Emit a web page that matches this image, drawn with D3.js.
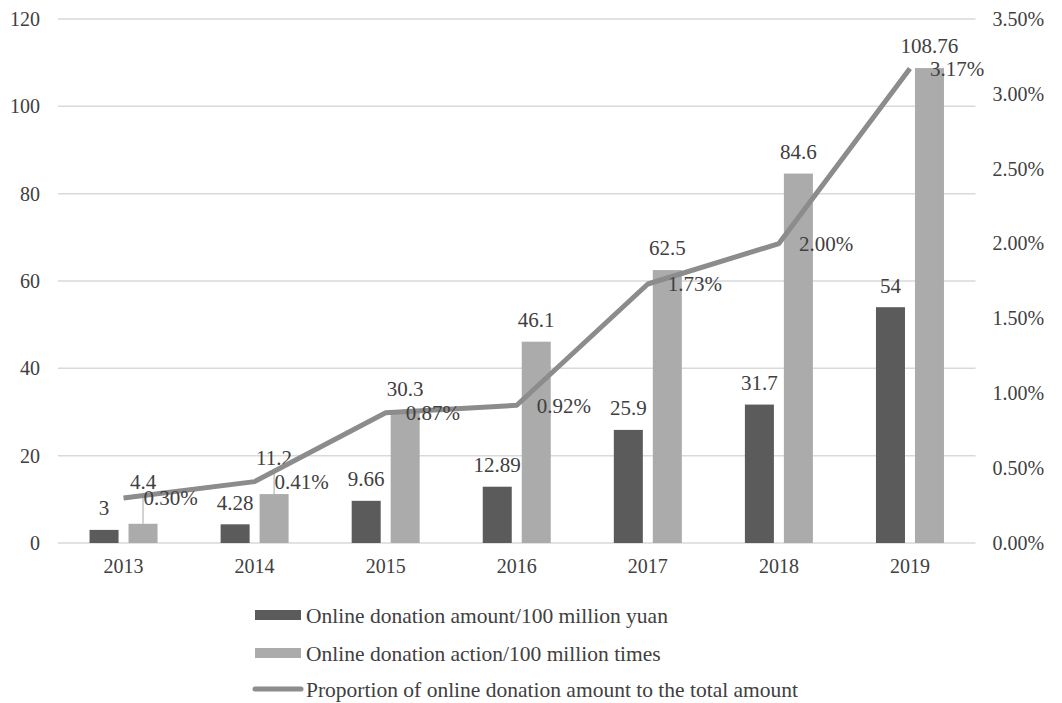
<!DOCTYPE html>
<html>
<head>
<meta charset="utf-8">
<script src="https://cdn.jsdelivr.net/npm/d3@7"></script>
<style>
  html, body { margin: 0; padding: 0; background: #fff; }
  svg, svg text { font-family: "Liberation Serif", "Times New Roman", serif; }
  svg { display: block; }
</style>
</head>
<body>
<svg id="chart" width="1062" height="703"></svg>
<script>
// Online donations in China, 2013–2019
const years = ["2013", "2014", "2015", "2016", "2017", "2018", "2019"];
const donationAmount = [3, 4.28, 9.66, 12.89, 25.9, 31.7, 54];          // 100 million yuan
const donationActions = [4.4, 11.2, 30.3, 46.1, 62.5, 84.6, 108.76];   // 100 million times
const donationShare = [0.30, 0.41, 0.87, 0.92, 1.73, 2.00, 3.17];      // percent of total
const leftTicks = [0, 20, 40, 60, 80, 100, 120];
const rightTicks = [0, 0.5, 1.0, 1.5, 2.0, 2.5, 3.0, 3.5];
const seriesNames = [
  "Online donation amount/100 million yuan",
  "Online donation action/100 million times",
  "Proportion of online donation amount to the total amount"
];

const colors = { amount: "#5b5b5b", action: "#ababab", share: "#8c8c8c", grid: "#d9d9d9", text: "#404040" };
const serif = "'Liberation Serif', 'Times New Roman', serif";

const svg = d3.select("#chart");
const plot = { left: 58, right: 975.5, top: 19, bottom: 543 };

const x = d3.scaleBand().domain(years).range([plot.left, plot.right]).paddingInner(0).paddingOuter(0);
const xInner = d3.scaleBand().domain(["amount", "action"])
  .range([x.bandwidth() / 2 - 34, x.bandwidth() / 2 + 34]).paddingInner(0.256).paddingOuter(0);
const yLeft = d3.scaleLinear().domain([0, 120]).range([plot.bottom, plot.top]);
const yRight = d3.scaleLinear().domain([0, 3.5]).range([plot.bottom, plot.top]);

// Gridlines
svg.append("g")
  .selectAll("line")
  .data(leftTicks)
  .join("line")
  .attr("x1", plot.left).attr("x2", plot.right)
  .attr("y1", d => yLeft(d)).attr("y2", d => yLeft(d))
  .attr("stroke", colors.grid).attr("stroke-width", 1.5);

function styleAxis(g) {
  g.attr("font-family", null).attr("font-size", null);
  g.select(".domain").remove();
  g.selectAll("text")
    .style("font-family", serif).style("font-size", "20px").attr("fill", colors.text);
}

// Left axis
svg.append("g")
  .attr("transform", `translate(${plot.left},0)`)
  .call(d3.axisLeft(yLeft).tickValues(leftTicks).tickSize(0).tickPadding(18))
  .call(styleAxis);

// Right axis
svg.append("g")
  .attr("transform", `translate(${plot.right},0)`)
  .call(d3.axisRight(yRight).tickValues(rightTicks).tickSize(0).tickPadding(17)
    .tickFormat(d => d.toFixed(2) + "%"))
  .call(styleAxis);

// Category axis
svg.append("g")
  .attr("transform", `translate(0,${plot.bottom})`)
  .call(d3.axisBottom(x).tickSize(0).tickPadding(16))
  .call(styleAxis);

// Bars
const barData = years.map((yr, i) => ({ year: yr, amount: donationAmount[i], action: donationActions[i] }));
const groups = svg.append("g").selectAll("g")
  .data(barData).join("g")
  .attr("transform", d => `translate(${x(d.year)},0)`);

groups.append("rect")
  .attr("x", xInner("amount")).attr("width", xInner.bandwidth())
  .attr("y", d => yLeft(d.amount)).attr("height", d => yLeft(0) - yLeft(d.amount))
  .attr("fill", colors.amount);
groups.append("rect")
  .attr("x", xInner("action")).attr("width", xInner.bandwidth())
  .attr("y", d => yLeft(d.action)).attr("height", d => yLeft(0) - yLeft(d.action))
  .attr("fill", colors.action);

// Value labels on the bars
const labelFont = "21px";
groups.append("text")
  .attr("x", xInner("amount") + xInner.bandwidth() / 2)
  .attr("y", d => yLeft(d.amount) - 22)
  .attr("dy", "0.35em").attr("text-anchor", "middle")
  .style("font-size", labelFont).attr("fill", colors.text)
  .text(d => d.amount);

// The first two action labels were lifted clear of the line and get leader lines
const lift = [20, 14, 0, 0, 0, 0, 0];
groups.each(function (d, i) {
  const g = d3.select(this);
  const cx = xInner("action") + xInner.bandwidth() / 2;
  const ly = yLeft(d.action) - 22 - lift[i];
  if (lift[i] > 0) {
    g.append("line")
      .attr("x1", cx).attr("x2", cx)
      .attr("y1", ly + 14).attr("y2", yLeft(d.action))
      .attr("stroke", "#a6a6a6").attr("stroke-width", 1);
  }
  g.append("text")
    .attr("x", cx).attr("y", ly)
    .attr("dy", "0.35em").attr("text-anchor", "middle")
    .style("font-size", labelFont).attr("fill", colors.text)
    .text(d.action);
});

// Share line on the right axis
const cx = yr => x(yr) + x.bandwidth() / 2;
const linePts = years.map((yr, i) => [cx(yr), yRight(donationShare[i])]);
svg.append("path")
  .attr("d", d3.line()(linePts))
  .attr("fill", "none").attr("stroke", colors.share)
  .attr("stroke-width", 5).attr("stroke-linejoin", "round");

svg.append("g").selectAll("text")
  .data(years).join("text")
  .attr("x", yr => cx(yr) + 20)
  .attr("y", (yr, i) => yRight(donationShare[i]))
  .attr("dy", "0.35em")
  .style("font-size", labelFont).attr("fill", colors.text)
  .text((yr, i) => donationShare[i].toFixed(2) + "%");

// Legend
const legend = svg.append("g").attr("transform", "translate(255,0)");
const rowY = [615, 653, 689];
legend.append("rect").attr("x", 0).attr("y", rowY[0] - 5).attr("width", 46).attr("height", 10).attr("fill", colors.amount);
legend.append("rect").attr("x", 0).attr("y", rowY[1] - 5).attr("width", 46).attr("height", 10).attr("fill", colors.action);
legend.append("line").attr("x1", 0).attr("x2", 46).attr("y1", rowY[2]).attr("y2", rowY[2])
  .attr("stroke", colors.share).attr("stroke-width", 5).attr("stroke-linecap", "round");
legend.selectAll("text")
  .data(seriesNames).join("text")
  .attr("x", 51).attr("y", (d, i) => rowY[i])
  .attr("dy", "0.35em")
  .style("font-size", "21.5px").attr("fill", colors.text)
  .text(d => d);
</script>
</body>
</html>
